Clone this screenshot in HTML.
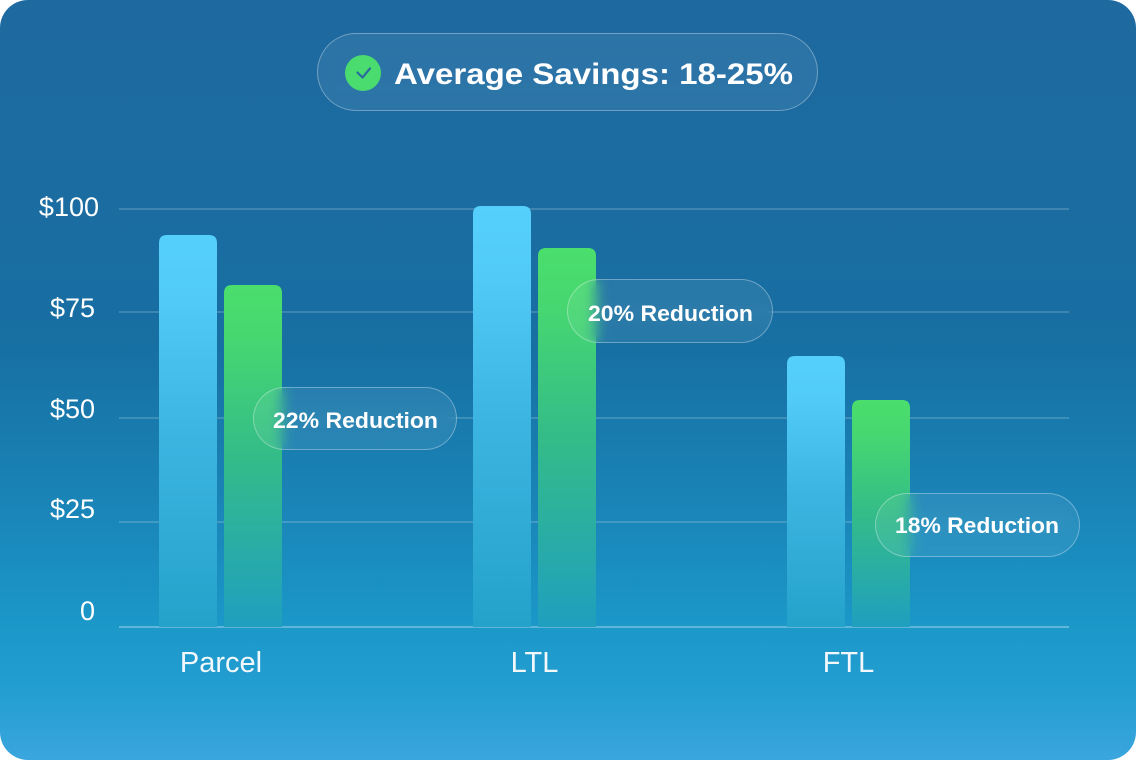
<!DOCTYPE html>
<html>
<head>
<meta charset="utf-8">
<style>
  html,body{margin:0;padding:0;background:#ffffff;}
  body{width:1136px;height:760px;position:relative;overflow:hidden;}
  .card{position:absolute;left:0;top:0;width:1136px;height:760px;border-radius:28px;overflow:hidden;
    background:linear-gradient(180deg,#1e69a0 0%,#1b6ca1 25%,#176fa2 45%,#1a86b9 68%,#1b97c8 82%,#259fd2 92%,#3aa6de 100%);}
  svg{position:absolute;left:0;top:0;}
  .pill{position:absolute;box-sizing:border-box;border:1.5px solid rgba(255,255,255,0.32);
    background:rgba(255,255,255,0.07);-webkit-backdrop-filter:blur(7px);backdrop-filter:blur(7px);}
</style>
</head>
<body>
<div class="card">
  <svg width="1136" height="760" viewBox="0 0 1136 760">
    <defs>
      <linearGradient id="gb" x1="0" y1="0" x2="0" y2="1">
        <stop offset="0" stop-color="#55cffb"/>
        <stop offset="0.15" stop-color="#52cbf8"/>
        <stop offset="0.5" stop-color="#3db5e2"/>
        <stop offset="1" stop-color="#24a2ca"/>
      </linearGradient>
      <linearGradient id="gg" x1="0" y1="0" x2="0" y2="1">
        <stop offset="0" stop-color="#4ade6c"/>
        <stop offset="0.15" stop-color="#47d771"/>
        <stop offset="0.5" stop-color="#34bc88"/>
        <stop offset="1" stop-color="#209fbf"/>
      </linearGradient>
    </defs>
    <g stroke="rgba(255,255,255,0.22)" stroke-width="1.6">
      <line x1="119" y1="209" x2="1069" y2="209"/>
      <line x1="119" y1="312" x2="1069" y2="312"/>
      <line x1="119" y1="418" x2="1069" y2="418"/>
      <line x1="119" y1="522" x2="1069" y2="522"/>
    </g>
    <line x1="119" y1="627" x2="1069" y2="627" stroke="rgba(255,255,255,0.3)" stroke-width="2"/>
    <g font-family="'Liberation Sans', sans-serif" font-size="27" fill="#ffffff" text-anchor="end">
      <text x="99" y="216">$100</text>
      <text x="95" y="317">$75</text>
      <text x="95" y="418">$50</text>
      <text x="95" y="518">$25</text>
      <text x="95" y="620">0</text>
    </g>
    <path d="M159 627 V243 Q159 235 167 235 H209 Q217 235 217 243 V627 Z" fill="url(#gb)"/>
    <path d="M224 627 V293 Q224 285 232 285 H274 Q282 285 282 293 V627 Z" fill="url(#gg)"/>
    <path d="M473 627 V214 Q473 206 481 206 H523 Q531 206 531 214 V627 Z" fill="url(#gb)"/>
    <path d="M538 627 V256 Q538 248 546 248 H588 Q596 248 596 256 V627 Z" fill="url(#gg)"/>
    <path d="M787 627 V364 Q787 356 795 356 H837 Q845 356 845 364 V627 Z" fill="url(#gb)"/>
    <path d="M852 627 V408 Q852 400 860 400 H902 Q910 400 910 408 V627 Z" fill="url(#gg)"/>
    <g font-family="'Liberation Sans', sans-serif" font-size="29" fill="#f2f8fc" text-anchor="middle">
      <text x="221" y="672">Parcel</text>
      <text x="534.5" y="672">LTL</text>
      <text x="848.5" y="672">FTL</text>
    </g>
  </svg>

  <div class="pill" style="left:317px;top:33px;width:501px;height:78px;border-radius:39px;"></div>
  <div class="pill" style="left:253px;top:387px;width:204px;height:63px;border-radius:32px;"></div>
  <div class="pill" style="left:567px;top:279px;width:206px;height:64px;border-radius:32px;"></div>
  <div class="pill" style="left:875px;top:493px;width:205px;height:64px;border-radius:32px;"></div>

  <svg width="1136" height="760" viewBox="0 0 1136 760">
    <circle cx="363" cy="73" r="18" fill="#4bdc6f"/>
    <path d="M357.5 72.5 L362.5 77.5 L370 68.5" fill="none" stroke="#2b6c9c" stroke-width="2.2" stroke-linecap="round" stroke-linejoin="round"/>
    <text x="394" y="84" font-family="'Liberation Sans', sans-serif" font-weight="bold" font-size="30" fill="#ffffff" textLength="399" lengthAdjust="spacingAndGlyphs">Average Savings: 18-25%</text>
    <g font-family="'Liberation Sans', sans-serif" font-weight="bold" font-size="22.5" fill="#ffffff">
      <text x="273" y="428" textLength="165" lengthAdjust="spacingAndGlyphs">22% Reduction</text>
      <text x="588" y="321" textLength="165" lengthAdjust="spacingAndGlyphs">20% Reduction</text>
      <text x="895" y="533" textLength="164" lengthAdjust="spacingAndGlyphs">18% Reduction</text>
    </g>
  </svg>
</div>
</body>
</html>
